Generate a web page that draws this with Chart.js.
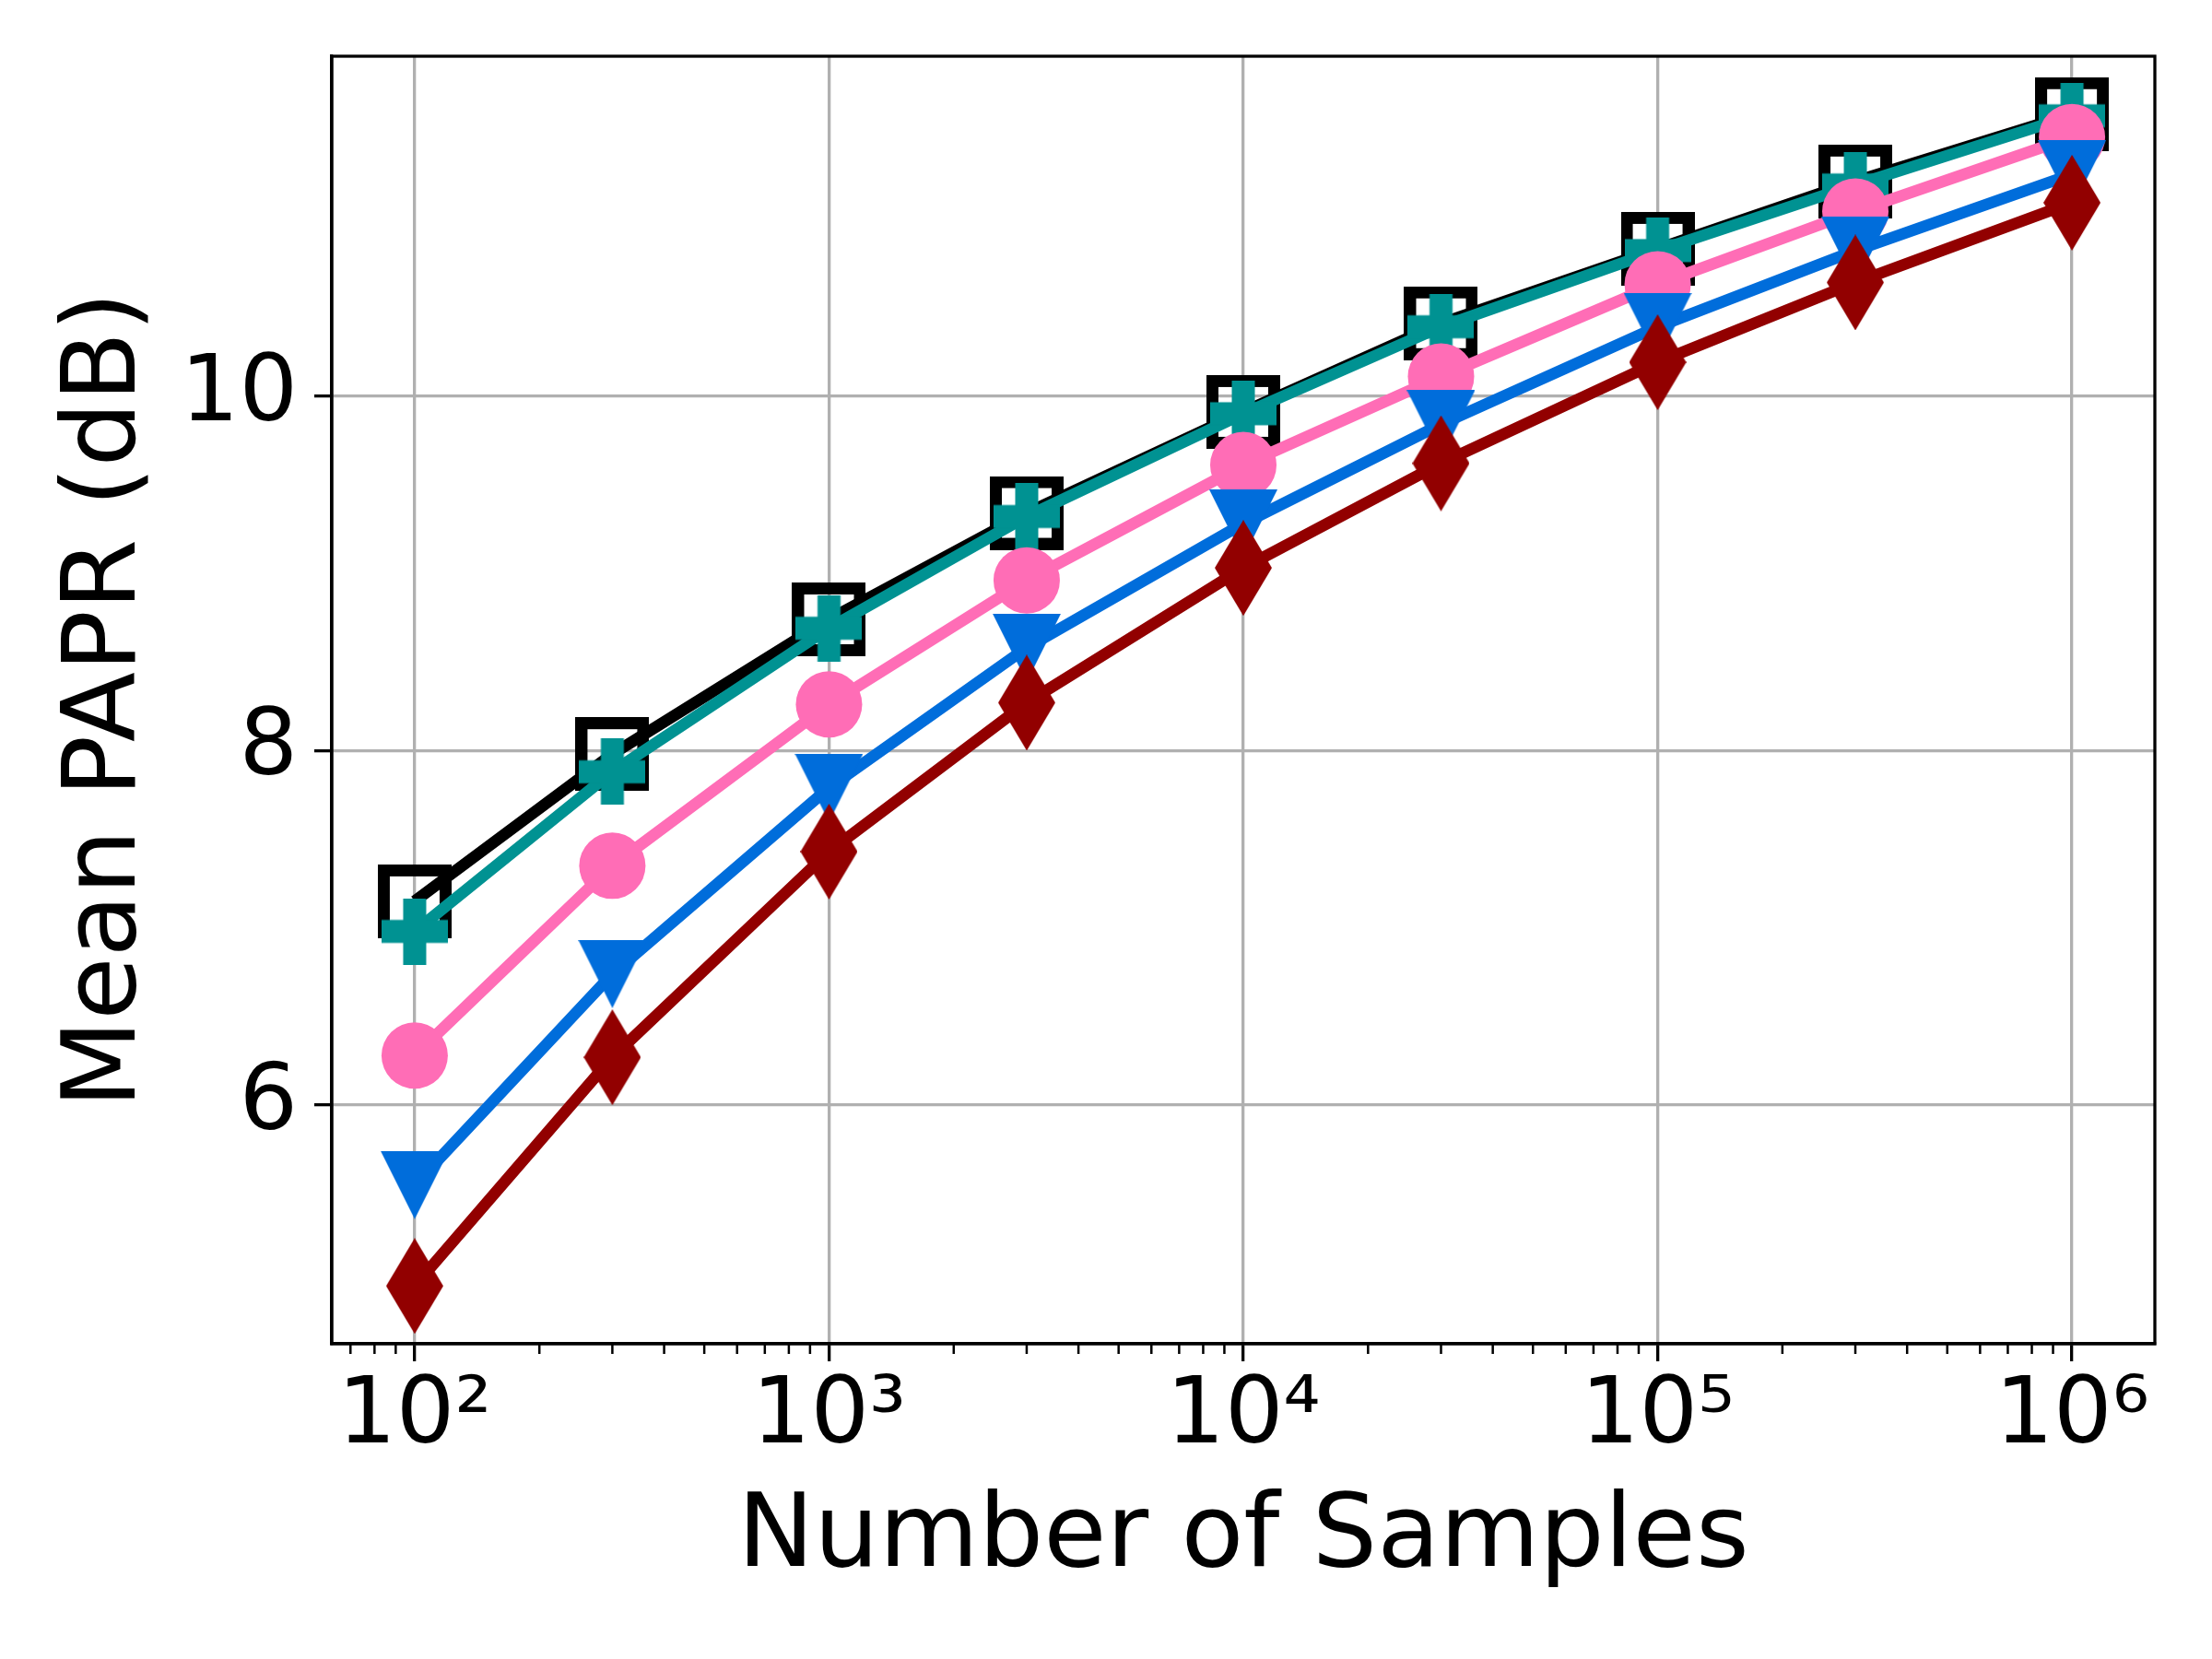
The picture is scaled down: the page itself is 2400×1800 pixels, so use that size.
<!DOCTYPE html>
<html>
<head>
<meta charset="utf-8">
<title>Mean PAPR vs Number of Samples</title>
<script src="https://cdn.jsdelivr.net/npm/chart.js@4.4.1/dist/chart.umd.min.js"></script>
<style>
  html, body { margin: 0; padding: 0; background: #ffffff; }
  canvas { display: block; }
</style>
</head>
<body>
<canvas id="paprChart" width="2400" height="1800"></canvas>
<script>
// --- DATA ---
const samples = [1e2, 3e2, 1e3, 3e3, 1e4, 3e4, 1e5, 3e5, 1e6];

const paprSquare  = [7.15, 7.98, 8.74, 9.34, 9.91, 10.41, 10.83, 11.21, 11.59];
const paprPlus    = [6.98, 7.88, 8.69, 9.32, 9.90, 10.39, 10.82, 11.19, 11.58];
const paprCircle  = [6.28, 7.35, 8.26, 8.96, 9.61, 10.11, 10.63, 11.04, 11.46];
const paprTriDown = [5.55, 6.74, 7.79, 8.58, 9.28, 9.84, 10.39, 10.82, 11.25];
const paprDiamond = [4.98, 6.27, 7.43, 8.27, 9.03, 9.62, 10.19, 10.64, 11.09];

const xTickValues = [1e2, 1e3, 1e4, 1e5, 1e6];
const xTickLabels = ['10²', '10³', '10⁴', '10⁵', '10⁶'];
const xMinorSteps = [2, 3, 4, 5, 6, 7, 8, 9];
const xDecades    = [1e1, 1e2, 1e3, 1e4, 1e5, 1e6];
const yTickValues = [6, 8, 10];

// axis limits (matplotlib style 5% margins)
const xMin = Math.pow(10, 1.8);
const xMax = Math.pow(10, 6.2);
const yMin = 4.654;
const yMax = 11.916;

// --- MARKER SHAPES (drawn onto small canvases) ---
function makeCanvas(w, h, draw) {
    const c = document.createElement('canvas');
    c.width = w;
    c.height = h;
    draw(c.getContext('2d'));
    return c;
}

const squareMarker = makeCanvas(80, 80, g => {
    g.strokeStyle = '#000000';
    g.lineWidth = 13;
    g.strokeRect(6.5, 6.5, 67, 67);
});

const plusMarker = makeCanvas(72, 72, g => {
    g.fillStyle = '#009292';
    g.fillRect(0, 23.5, 72, 25);
    g.fillRect(23.5, 0, 25, 72);
});

const triDownMarker = makeCanvas(74, 74, g => {
    g.fillStyle = '#006ddb';
    g.beginPath();
    g.moveTo(0, 0);
    g.lineTo(74, 0);
    g.lineTo(37, 74);
    g.closePath();
    g.fill();
});

const diamondMarker = makeCanvas(62, 104, g => {
    g.fillStyle = '#920000';
    g.beginPath();
    g.moveTo(31, 0);
    g.lineTo(62, 52);
    g.lineTo(31, 104);
    g.lineTo(0, 52);
    g.closePath();
    g.fill();
});

function points(values) {
    return samples.map((s, i) => ({ x: s, y: values[i] }));
}

function series(label, values, color, marker, order) {
    return {
        label: label,
        data: points(values),
        borderColor: color,
        backgroundColor: color,
        borderWidth: 12.5,
        pointStyle: marker,
        pointRadius: 36,
        pointBorderWidth: 0,
        pointBackgroundColor: color,
        tension: 0,
        order: order
    };
}

// --- FRAME + MINOR TICKS ---
const framePlugin = {
    id: 'frame',
    afterDatasetsDraw(chart) {
        const { ctx, chartArea: a } = chart;
        const xScale = chart.scales.x;
        ctx.save();
        ctx.strokeStyle = '#000000';

        // minor ticks on the log axis
        ctx.lineWidth = 2.5;
        xDecades.forEach(d => {
            xMinorSteps.forEach(k => {
                const v = k * d;
                if (v <= xMin || v >= xMax) return;
                const px = xScale.getPixelForValue(v);
                ctx.beginPath();
                ctx.moveTo(px, a.bottom);
                ctx.lineTo(px, a.bottom + 11);
                ctx.stroke();
            });
        });

        // spines on all four sides
        ctx.lineWidth = 3.3;
        ctx.strokeRect(a.left, a.top, a.right - a.left, a.bottom - a.top);
        ctx.restore();
    }
};

Chart.defaults.font.family = "'DejaVu Sans', sans-serif";
Chart.defaults.color = '#000000';

const ctx = document.getElementById('paprChart').getContext('2d');
new Chart(ctx, {
    type: 'line',
    data: {
        datasets: [
            series('Square', paprSquare, '#000000', squareMarker, 5),
            series('Plus', paprPlus, '#009292', plusMarker, 4),
            series('Circle', paprCircle, '#ff6db6', 'circle', 3),
            series('Triangle', paprTriDown, '#006ddb', triDownMarker, 2),
            series('Diamond', paprDiamond, '#920000', diamondMarker, 1)
        ]
    },
    options: {
        responsive: false,
        animation: false,
        devicePixelRatio: 1,
        layout: { padding: { top: 61, right: 62, left: 0, bottom: 0 } },
        plugins: {
            legend: { display: false },
            tooltip: { enabled: false }
        },
        scales: {
            x: {
                type: 'logarithmic',
                min: xMin,
                max: xMax,
                afterBuildTicks: scale => {
                    scale.ticks = xTickValues.map(v => ({ value: v, major: true }));
                },
                afterFit: scale => { scale.height = 342; },
                ticks: {
                    autoSkip: false,
                    maxRotation: 0,
                    padding: 2,
                    font: { size: 100, lineHeight: 1.2 },
                    callback: (value, index) => xTickLabels[index]
                },
                grid: {
                    color: '#b0b0b0',
                    lineWidth: 3.3,
                    tickColor: '#000000',
                    tickLength: 19,
                    tickWidth: 3.3
                },
                border: { display: true, color: '#000000', width: 3.3 },
                title: {
                    display: true,
                    text: 'Number of Samples',
                    font: { size: 111, lineHeight: 1.2 },
                    padding: { top: 0, bottom: 63 }
                }
            },
            y: {
                type: 'linear',
                min: yMin,
                max: yMax,
                afterBuildTicks: scale => {
                    scale.ticks = yTickValues.map(v => ({ value: v }));
                },
                afterFit: scale => { scale.width = 360; },
                ticks: {
                    padding: 18,
                    // small line height keeps the label overhang from pushing the plot top down
                    font: { size: 100, lineHeight: 0.8 }
                },
                grid: {
                    color: '#b0b0b0',
                    lineWidth: 3.3,
                    tickColor: '#000000',
                    tickLength: 19,
                    tickWidth: 3.3
                },
                border: { display: true, color: '#000000', width: 3.3 },
                title: {
                    display: true,
                    text: 'Mean PAPR (dB)',
                    font: { size: 111, lineHeight: 1.2 },
                    padding: { top: 51, bottom: 0 }
                }
            }
        }
    },
    plugins: [framePlugin]
});
</script>
</body>
</html>
